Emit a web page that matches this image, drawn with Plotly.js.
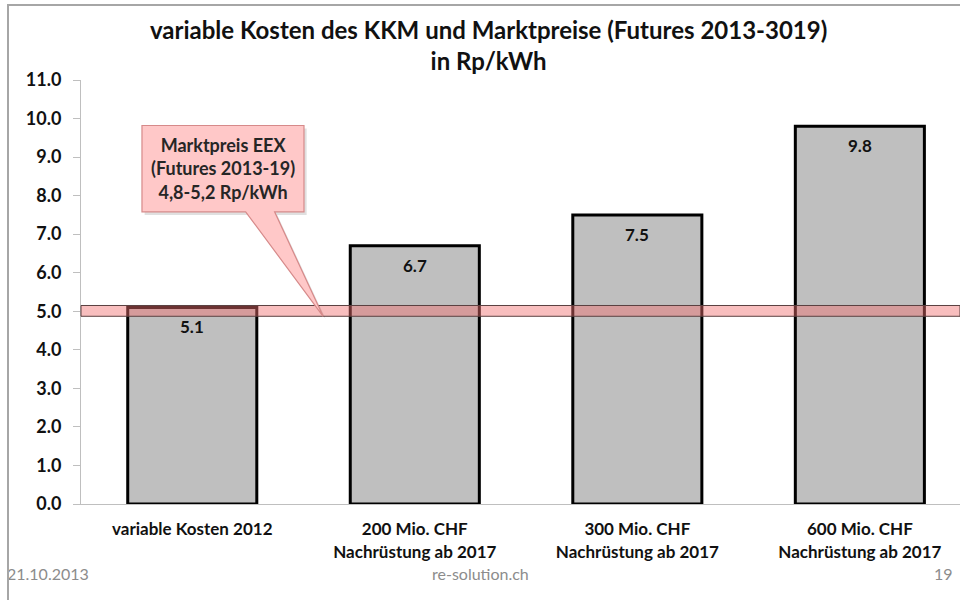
<!DOCTYPE html>
<html>
<head>
<meta charset="utf-8">
<script src="https://cdn.plot.ly/plotly-3.0.1.min.js"></script>
<style>
  html, body { margin: 0; padding: 0; background: #ffffff; }
  #wrap { position: relative; width: 960px; height: 600px; overflow: hidden; }
  #chart { width: 960px; height: 600px; }
  #frame { position: absolute; left: 7px; top: 4px; width: 960px; height: 600px;
           border-top: 2px solid #A6A6A6; border-left: 2px solid #A6A6A6;
           pointer-events: none; box-sizing: border-box; }
</style>
</head>
<body>
<div id="wrap">
<div id="chart"></div>
<div id="frame"></div>
</div>
<script>
// ---- data ----
const categories = [
  'variable Kosten 2012',
  '200 Mio. CHF<br>Nachrüstung ab 2017',
  '300 Mio. CHF<br>Nachrüstung ab 2017',
  '600 Mio. CHF<br>Nachrüstung ab 2017'
];
const values = [5.1, 6.7, 7.5, 9.8];
const marketBand = [4.87, 5.15];           // EEX futures band as drawn
const yTicks = [0, 1, 2, 3, 4, 5, 6, 7, 8, 9, 10, 11];
const titleText = '<b>variable Kosten des KKM und Marktpreise (Futures 2013-3019)<br>in Rp/kWh</b>';
const calloutText = '<b>Marktpreis EEX<br>(Futures 2013-19)<br>4,8-5,2 Rp/kWh</b>';
const footerLeft = '21.10.2013';
const footerCenter = 're-solution.ch';
const footerRight = '19';

const FONT = 'Lato, "Open Sans", sans-serif';

const xIdx = categories.map((c, i) => i);

const trace = {
  type: 'bar',
  x: xIdx,
  y: values,
  width: 0.58,
  marker: { color: '#BFBFBF', line: { color: '#000000', width: 3 } },
  hoverinfo: 'skip'
};

// value labels inside bar tops
const valueLabels = values.map((v, i) => ({
  x: i, y: v, xref: 'x', yref: 'y',
  text: '<b>' + v.toFixed(1) + '</b>',
  showarrow: false, yanchor: 'top', yshift: -7,
  font: { family: FONT, size: 17, color: '#111111' }
}));

// callout geometry (data units)
const cx0 = -0.226, cx1 = 0.502, cy0 = 7.58, cy1 = 9.82;
const wb0 = 0.24, wb1 = 0.37, tipX = 0.588, tipY = 4.87;
function calloutPath(dx, dy) {
  const p = (x, y) => (x + dx) + ',' + (y + dy);
  return 'M' + p(cx0, cy1) + ' L' + p(cx1, cy1) + ' L' + p(cx1, cy0) +
         ' L' + p(wb1, cy0) + ' L' + p(tipX, tipY) + ' L' + p(wb0, cy0) +
         ' L' + p(cx0, cy0) + ' Z';
}

const shapes = [
  // market price band
  { type: 'rect', xref: 'paper', yref: 'y', x0: 0, x1: 1, y0: marketBand[0], y1: marketBand[1],
    fillcolor: 'rgba(240,110,110,0.45)', line: { color: '#5a4040', width: 1 }, layer: 'above' },
  // callout shadow
  { type: 'path', xref: 'x', yref: 'y', path: calloutPath(0.012, -0.08),
    fillcolor: 'rgba(0,0,0,0.12)', line: { width: 0 }, layer: 'above' },
  // callout
  { type: 'path', xref: 'x', yref: 'y', path: calloutPath(0, 0),
    fillcolor: '#FFC8C8', line: { color: '#D68A8A', width: 1.2 }, layer: 'above' }
];

const annotations = valueLabels.concat([
  { x: (cx0 + cx1) / 2, y: (cy0 + cy1) / 2, xref: 'x', yref: 'y', text: calloutText,
    showarrow: false, align: 'center',
    font: { family: FONT, size: 18, color: '#262626' } },
  { x: -0.086, y: -0.191, xref: 'paper', yref: 'paper', text: footerLeft, showarrow: false,
    xanchor: 'left', font: { family: FONT, size: 16, color: '#8C8C8C' } },
  { x: 0.454, y: -0.191, xref: 'paper', yref: 'paper', text: footerCenter, showarrow: false,
    xanchor: 'center', font: { family: FONT, size: 16, color: '#8C8C8C' } },
  { x: 0.994, y: -0.191, xref: 'paper', yref: 'paper', text: footerRight, showarrow: false,
    xanchor: 'right', font: { family: FONT, size: 16, color: '#8C8C8C' } }
]);

const layout = {
  width: 960, height: 600,
  margin: { l: 81, r: 0, t: 80, b: 96, pad: 0 },
  paper_bgcolor: '#ffffff', plot_bgcolor: '#ffffff',
  showlegend: false,
  title: {
    text: titleText, xref: 'container', yref: 'container',
    x: 0.509, xanchor: 'center', y: 0.935, yanchor: 'top',
    font: { family: FONT, size: 24, color: '#111111' }
  },
  xaxis: {
    range: [-0.5, 3.45], tickmode: 'array', tickvals: xIdx,
    ticktext: categories.map(c => '<b>' + c + '</b>'),
    showline: true, linecolor: '#BFBFBF', linewidth: 1, ticks: '', showgrid: false,
    zeroline: false, ticklabelstandoff: 10,
    tickfont: { family: FONT, size: 17, color: '#111111' }
  },
  yaxis: {
    range: [0, 11], tickmode: 'array', tickvals: yTicks,
    ticktext: yTicks.map(v => '<b>' + v.toFixed(1) + '</b>'),
    showline: true, linecolor: '#BFBFBF', linewidth: 1,
    ticks: 'outside', ticklen: 7, tickcolor: '#BFBFBF',
    showgrid: false, zeroline: false, ticklabelstandoff: 8,
    tickfont: { family: FONT, size: 18, color: '#111111' }
  },
  shapes: shapes,
  annotations: annotations
};

Plotly.newPlot('chart', [trace], layout, { staticPlot: true, displayModeBar: false });
</script>
</body>
</html>
